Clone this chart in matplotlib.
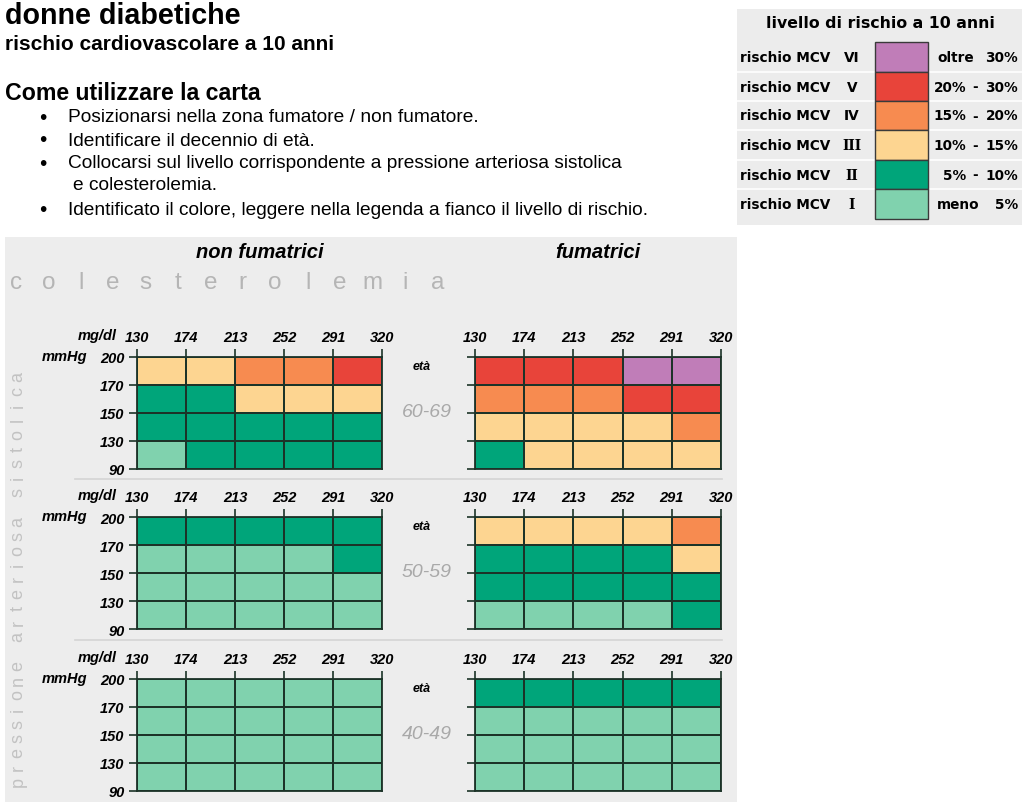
import matplotlib
matplotlib.use('Agg')
import matplotlib.pyplot as plt
from matplotlib import font_manager
from matplotlib.colors import ListedColormap, BoundaryNorm
from matplotlib.patches import Rectangle
from matplotlib.lines import Line2D
import numpy as np

# ---------------- data ----------------
chol_labels = ['130', '174', '213', '252', '291', '320']   # mg/dl
sbp_labels = ['200', '170', '150', '130', '90']             # mmHg, top -> bottom
age_groups = ['60-69', '50-59', '40-49']
risk_numerals = ['VI', 'V', 'IV', 'III', 'II', 'I']
risk_ranges = [('oltre', '', '30%'), ('20%', '-', '30%'), ('15%', '-', '20%'),
               ('10%', '-', '15%'), ('5%', '-', '10%'), ('meno', '', '5%')]
risk_colors = ['#80d2ae', '#00a57a', '#fdd591', '#f78b50', '#e8443a', '#c07db8']  # I..VI

# risk level (1..6) per cell, rows = SBP bands top->bottom, cols = cholesterol bands
nonsmoker_60_69 = [[3, 3, 4, 4, 5], [2, 2, 3, 3, 3], [2, 2, 2, 2, 2], [1, 2, 2, 2, 2]]
smoker_60_69 = [[5, 5, 5, 6, 6], [4, 4, 4, 5, 5], [3, 3, 3, 3, 4], [2, 3, 3, 3, 3]]
nonsmoker_50_59 = [[2, 2, 2, 2, 2], [1, 1, 1, 1, 2], [1, 1, 1, 1, 1], [1, 1, 1, 1, 1]]
smoker_50_59 = [[3, 3, 3, 3, 4], [2, 2, 2, 2, 3], [2, 2, 2, 2, 2], [1, 1, 1, 1, 2]]
nonsmoker_40_49 = [[1, 1, 1, 1, 1], [1, 1, 1, 1, 1], [1, 1, 1, 1, 1], [1, 1, 1, 1, 1]]
smoker_40_49 = [[2, 2, 2, 2, 2], [1, 1, 1, 1, 1], [1, 1, 1, 1, 1], [1, 1, 1, 1, 1]]

nonsmoker_grids = [nonsmoker_60_69, nonsmoker_50_59, nonsmoker_40_49]
smoker_grids = [smoker_60_69, smoker_50_59, smoker_40_49]

# ---------------- figure ----------------
W, H = 1024, 803
fig = plt.figure(figsize=(W / 100, H / 100), dpi=100)
fig.patch.set_facecolor('white')
SANS = 'Liberation Sans'
installed = {f.name for f in font_manager.fontManager.ttflist}
HEAD = 'Liberation Sans Narrow' if 'Liberation Sans Narrow' in installed else SANS


def fx(x):
    return x / W


def fy(y):
    return 1 - y / H


def T(x, y, s, **kw):
    kw.setdefault('va', 'center')
    kw.setdefault('family', SANS)
    return fig.text(fx(x), fy(y), s, **kw)


# backgrounds
fig.add_artist(Rectangle((fx(5), fy(803)), (737 - 5) / W, (803 - 238) / H,
                         transform=fig.transFigure, facecolor='#ededed',
                         edgecolor='none', zorder=0))
fig.add_artist(Rectangle((fx(737), fy(226)), (1022 - 737) / W, (226 - 10) / H,
                         transform=fig.transFigure, facecolor='#ececec',
                         edgecolor='none', zorder=0))

# ---------------- header text ----------------
head_items = [
    (T(5, 16, 'donne diabetiche', fontsize=20, weight='bold', family=HEAD), 235),
    (T(5, 45, 'rischio cardiovascolare a 10 anni', fontsize=14, weight='bold', family=HEAD), 330),
    (T(5, 93, 'Come utilizzare la carta', fontsize=16, weight='bold', family=HEAD), 257),
]
bullets = [(118, 'Posizionarsi nella zona fumatore / non fumatore.', True),
           (141, 'Identificare il decennio di età.', True),
           (164, 'Collocarsi sul livello corrispondente a pressione arteriosa sistolica', True),
           (186, 'e colesterolemia.', False),
           (211, 'Identificato il colore, leggere nella legenda a fianco il livello di rischio.', True)]
bullet_texts = []
for y, s, b in bullets:
    if b:
        T(43, y, '\u2022', fontsize=15, ha='center')
        bullet_texts.append(T(68, y, s, fontsize=13, family=HEAD))
    else:
        bullet_texts.append(T(73, y, s, fontsize=13, family=HEAD))

# fit header font sizes to the widths measured on the reference
fig.canvas.draw()
rend = fig.canvas.get_renderer()
for t, target in head_items:
    w = t.get_window_extent(rend).width
    t.set_fontsize(t.get_fontsize() * target / w)
w_last = bullet_texts[-1].get_window_extent(rend).width
bfs = 13 * 582 / w_last
for t in bullet_texts:
    t.set_fontsize(bfs)

# ---------------- legend ----------------
LEG = 'DejaVu Sans'
T(880, 23, 'livello di rischio a 10 anni', fontsize=11.3, weight='bold', ha='center', family=LEG)
row_edges = [43, 73, 102, 131, 161, 190, 220]
leg_colors = risk_colors[::-1]
for i, num in enumerate(risk_numerals):
    y0, y1 = row_edges[i], row_edges[i + 1]
    yc = (y0 + y1) / 2
    if i > 0:
        fig.add_artist(Line2D([fx(737), fx(1022)], [fy(y0), fy(y0)], color='white', lw=1.2,
                              transform=fig.transFigure, zorder=1))
    fig.add_artist(Rectangle((fx(875), fy(y1)), (928 - 875) / W, (y1 - y0) / H,
                             transform=fig.transFigure, facecolor=leg_colors[i],
                             edgecolor='#3a3a3a', lw=1.0, zorder=2))
    T(740, yc, 'rischio MCV', fontsize=9.8, weight='bold', family=LEG)
    fam = LEG if num in ('VI', 'V', 'IV') else 'DejaVu Serif'
    T(852, yc, num, fontsize=9.8, weight='bold', ha='center', family=fam)
    a, d, b = risk_ranges[i]
    if d:
        T(966, yc, a, fontsize=9.8, weight='bold', ha='right', family=LEG)
        T(975, yc, d, fontsize=9.8, weight='bold', ha='center', family=LEG)
    else:
        T(937, yc, a, fontsize=9.8, weight='bold', ha='left', family=LEG)
    T(1018, yc, b, fontsize=9.8, weight='bold', ha='right', family=LEG)

# ---------------- chart panel texts ----------------
T(260, 253, 'non fumatrici', fontsize=14.5, weight='bold', style='italic', ha='center')
T(598, 253, 'fumatrici', fontsize=14.5, weight='bold', style='italic', ha='center')

word = 'colesterolemia'
for i, ch in enumerate(word):
    T(16 + i * 32.4, 283, ch, fontsize=17.5, color='#b5b5b5', ha='center')

vword = 'pressione arteriosa sistolica'
n = len(vword)
for i, ch in enumerate(vword):
    if ch == ' ':
        continue
    y = 782 - i * (782 - 377) / (n - 1)
    T(18, y, ch, fontsize=13, color='#c2c2c2', ha='center', rotation=90)

# separators
for ys in (480, 641):
    fig.add_artist(Line2D([fx(75), fx(722)], [fy(ys), fy(ys)], color='#d4d4d4', lw=1.2,
                          transform=fig.transFigure, zorder=1))

# ---------------- grids ----------------
cmap = ListedColormap(risk_colors)
norm = BoundaryNorm(np.arange(0.5, 7.5, 1), cmap.N)
LINE = '#1c3328'
row_tops = [358, 518, 680]
row_bots = [470, 630, 792]
left_x = (137, 382)
right_x = (475, 721)


def draw_grid(x0, x1, ytop, ybot, data, ylabels):
    ax = fig.add_axes([fx(x0), fy(ybot), (x1 - x0) / W, (ybot - ytop) / H])
    ax.patch.set_alpha(0)
    arr = np.array(data)[::-1]
    ax.pcolormesh(np.arange(len(chol_labels)), np.arange(len(sbp_labels)), arr,
                  cmap=cmap, norm=norm, edgecolors=LINE, linewidth=1.3)
    ax.set_xlim(0, 5)
    ax.set_ylim(0, 4)
    ax.xaxis.tick_top()
    ax.set_xticks(range(len(chol_labels)))
    ax.set_xticklabels(chol_labels)
    ax.set_yticks(range(len(sbp_labels)))
    ax.set_yticklabels(sbp_labels[::-1] if ylabels else [])
    ax.tick_params(axis='both', direction='out', length=6, width=1.2, color=LINE,
                   labelsize=10.5, pad=3)
    for lab in ax.get_xticklabels() + ax.get_yticklabels():
        lab.set_fontweight('bold')
        lab.set_fontstyle('italic')
        lab.set_family(SANS)
    for s in ax.spines.values():
        s.set_color(LINE)
        s.set_linewidth(1.3)
    return ax


for k in range(3):
    draw_grid(left_x[0], left_x[1], row_tops[k], row_bots[k], nonsmoker_grids[k], True)
    draw_grid(right_x[0], right_x[1], row_tops[k], row_bots[k], smoker_grids[k], False)
    top = row_tops[k]
    T(117, top - 22, 'mg/dl', fontsize=10.5, weight='bold', style='italic', ha='right')
    T(64, top - 1, 'mmHg', fontsize=10.5, weight='bold', style='italic', ha='center')
    T(422, top + 9, 'età', fontsize=9, weight='bold', style='italic', ha='center')
    T(427, top + 55, age_groups[k], fontsize=14, style='italic', color='#a9a9a9', ha='center')

fig.savefig('out.png', dpi=100, facecolor='white')
